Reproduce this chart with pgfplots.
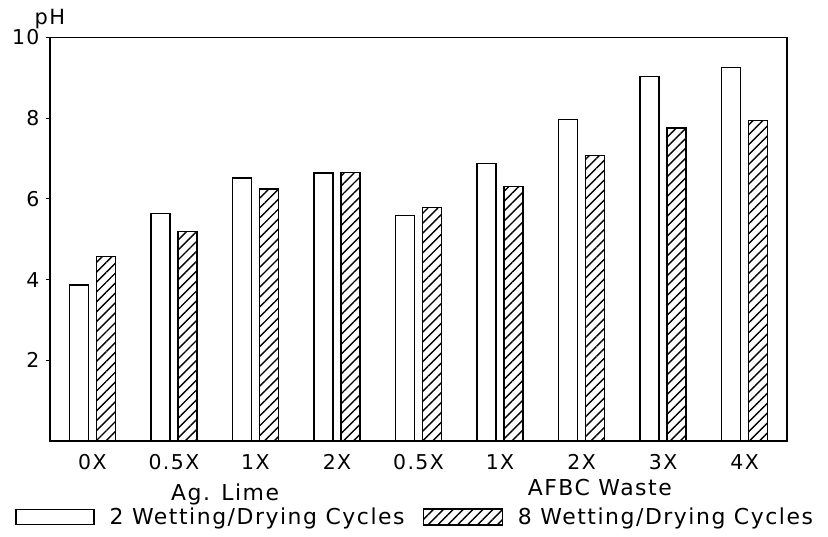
\documentclass[border=0pt]{standalone}
\usepackage{fontspec}
\setmainfont{DejaVu Sans}[LetterSpace=7]
\usepackage{pgfplots}
\pgfplotsset{compat=1.18}
\usetikzlibrary{patterns.meta}
\pgfplotstableread{
x two eight
0 3.87 4.57
1 5.64 5.19
2 6.52 6.25
3 6.64 6.65
4 5.59 5.79
5 6.88 6.30
6 7.97 7.08
7 9.03 7.76
8 9.25 7.94
}\phdata
\begin{document}
\begin{tikzpicture}
\useasboundingbox (-50bp,-96bp) rectangle (778bp,441bp);
\begin{axis}[
  scale only axis, width=737bp, height=403.5bp,
  at={(0,0)}, anchor=south west,
  clip=false,
  xmin=-0.52, xmax=8.52, ymin=0, ymax=10,
  ytick={2,4,6,8,10},
  ytick pos=left,
  xtick={0,...,8},
  xticklabels={0X,0.5X,1X,2X,0.5X,1X,2X,3X,4X},
  x tick style={draw=none},
  y tick style={line width=1.2bp, black},
  tick align=outside, major tick length=4bp,
  axis line style={line width=1.4bp},
  ybar, bar width=19bp,
  /pgf/number format/assume math mode=true,
  tick label style={font=\fontsize{20.5}{24}\selectfont},
  x tick label style={yshift=-6bp},
  y tick label style={xshift=-3bp},
  legend columns=2,
  legend style={draw=none, fill=none, inner sep=0pt,
    at={(axis description cs:-0.0475,-0.1884)}, anchor=west,
    font=\fontsize{22}{26}\selectfont,
    nodes={inner sep=0pt, anchor=west},
    /tikz/every odd column/.append style={column sep=15bp},
    /tikz/every even column/.append style={column sep=18bp}},
]
\addplot[bar shift=-13.5bp, draw=black, line width=1.4bp, fill=white,
  legend image code/.code={\draw[line width=1.4bp, fill=white] (0bp,-7.5bp) rectangle (78bp,7.5bp);}]
  table[x=x, y=two] {\phdata};
\addlegendentry{2 Wetting/Drying Cycles}
\addplot[bar shift=13.5bp, draw=black, line width=1.4bp,
  pattern={Lines[angle=45, distance=7bp, line width=1.4bp]},
  legend image code/.code={\draw[line width=1.4bp, pattern={Lines[angle=45, distance=7bp, line width=1.4bp]}] (0bp,-8bp) rectangle (79bp,8bp);}]
  table[x=x, y=eight] {\phdata};
\addlegendentry{8 Wetting/Drying Cycles}
\node[font=\fontsize{22}{26}\selectfont, yshift=-53bp] at (axis description cs:0.2375,0) {Ag. Lime};
\node[font=\fontsize{22}{26}\selectfont, yshift=-47bp] at (axis description cs:0.746,0) {AFBC Waste};
\node[font=\fontsize{21}{24}\selectfont, anchor=base west, xshift=-19bp, yshift=12.5bp] at (axis description cs:0,1) {pH};
\end{axis}
\end{tikzpicture}
\end{document}
